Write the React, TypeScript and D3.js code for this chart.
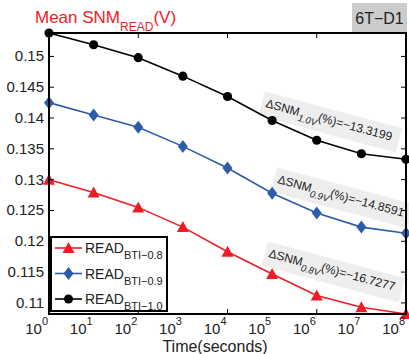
import React from 'react';
import * as d3 from 'd3';

// time points (seconds) and the mean read SNM (V) for each supply
const times = [1, 1e1, 1e2, 1e3, 1e4, 1e5, 1e6, 1e7, 1e8];
const snm08 = [0.13, 0.1279, 0.1255, 0.1223, 0.1183, 0.1147, 0.1112, 0.1093, 0.1082];
const snm09 = [0.1425, 0.1405, 0.1385, 0.1354, 0.1319, 0.1278, 0.1246, 0.1223, 0.1213];
const snm10 = [0.1538, 0.1519, 0.1498, 0.1468, 0.1435, 0.1396, 0.1364, 0.1342, 0.1333];

const yTicks = [0.11, 0.115, 0.12, 0.125, 0.13, 0.135, 0.14, 0.145, 0.15];
const xTickLabels = [0, 1, 2, 3, 4, 5, 6, 7, 8];
const xTickMarks = [1e2, 1e4, 1e6];

const legendNames = ['BTI−0.8', 'BTI−0.9', 'BTI−1.0'];
const deltaVolts = ['1.0V', '0.9V', '0.8V'];
const deltaValues = ['−13.3199', '−14.8591', '−16.7277'];

const FONT = '"Liberation Sans", Arial, Helvetica, sans-serif';
const RED = '#ee1d25';
const BLUE = '#2d5ca9';

const width = 409;
const height = 354;
const margin = { left: 49, right: 3, top: 33, bottom: 40 };

const App = () => {
  const x = d3.scaleLog().domain([1, 1e8]).range([margin.left, width - margin.right]);
  const y = d3.scaleLinear().domain([0.1082, 0.1538]).range([height - margin.bottom, margin.top]);
  const [x0, x1] = x.range();
  const [y0, y1] = y.range();

  const series = [
    { name: legendNames[0], values: snm08, color: RED, shape: 'triangle' },
    { name: legendNames[1], values: snm09, color: BLUE, shape: 'diamond' },
    { name: legendNames[2], values: snm10, color: '#000', shape: 'circle' },
  ];

  const line = d3
    .line<number>()
    .x((_, i) => x(times[i]))
    .y((d) => y(d));

  // marker paths, centred on 0,0
  const markerPath = (shape: string) => {
    if (shape === 'triangle') return 'M0,-6L6,5L-6,5Z';
    if (shape === 'diamond') return 'M0,-6.5L5,0L0,6.5L-5,0Z';
    return d3.symbol().type(d3.symbolCircle).size(66)() as string;
  };

  // annotation placement: baseline start of the text
  const notes = [
    { volt: deltaVolts[0], val: deltaValues[0], px: 265, py: 107 },
    { volt: deltaVolts[1], val: deltaValues[1], px: 277, py: 183 },
    { volt: deltaVolts[2], val: deltaValues[2], px: 268, py: 257 },
  ];

  return (
    <svg width={width} height={height} style={{ position: 'absolute', left: 0, top: 0, background: '#fff' }} fontFamily={FONT}>
      {/* annotations with grey boxes */}
      {notes.map((n, i) => (
        <g key={'n' + i} transform={`translate(${n.px},${n.py}) rotate(15)`}>
          <rect x={-4} y={-15} width={142} height={25} fill="#ececec" opacity={0.9} />
          <text fontSize={12} fill="#222">
            ΔSNM
            <tspan fontSize={9.5} dy={5} fontStyle="italic">{n.volt}</tspan>
            <tspan dy={-5}>(%)={n.val}</tspan>
          </text>
        </g>
      ))}

      {/* series lines and markers */}
      {series.map((s) => (
        <g key={s.name}>
          <path d={line(s.values) as string} fill="none" stroke={s.color} strokeWidth={1.6} />
          {s.values.map((v, i) => (
            <path key={i} d={markerPath(s.shape)} transform={`translate(${x(times[i])},${y(v)})`} fill={s.color} />
          ))}
        </g>
      ))}

      {/* axes box */}
      <rect x={x0} y={y1} width={x1 - x0} height={y0 - y1} fill="none" stroke="#000" strokeWidth={2} />
      {yTicks.map((t) => (
        <g key={t}>
          <line x1={x0} x2={x0 + 5} y1={y(t)} y2={y(t)} stroke="#000" strokeWidth={1} />
          <line x1={x1} x2={x1 - 5} y1={y(t)} y2={y(t)} stroke="#000" strokeWidth={1} />
          <text x={x0 - 5} y={y(t) + 5} fontSize={15} textAnchor="end" fill="#222">
            {d3.format('')(t)}
          </text>
        </g>
      ))}
      {xTickMarks.map((t) => (
        <g key={t}>
          <line x1={x(t)} x2={x(t)} y1={y0} y2={y0 - 5} stroke="#000" strokeWidth={1} />
          <line x1={x(t)} x2={x(t)} y1={y1} y2={y1 + 5} stroke="#000" strokeWidth={1} />
        </g>
      ))}
      {xTickLabels.map((p) => (
        <text key={p} x={x(Math.pow(10, p)) - 1} y={334} fontSize={15} textAnchor="end" fill="#222">
          10<tspan fontSize={11} dy={-9}>{p}</tspan>
        </text>
      ))}
      <text x={215} y={351.5} fontSize={16} textAnchor="middle" fill="#222">
        Time(seconds)
      </text>

      {/* title and tag */}
      <text x={35} y={23} fontSize={17} fill={RED}>
        Mean SNM<tspan fontSize={12} dy={8}>READ</tspan>
        <tspan dy={-8}>(V)</tspan>
      </text>
      <rect x={352} y={3} width={55} height={29} fill="#cccccc" />
      <text x={379.5} y={24} fontSize={16} textAnchor="middle" fill="#222">
        6T−D1
      </text>

      {/* legend */}
      <rect x={51} y={237} width={116} height={74} fill="#fff" stroke="#000" strokeWidth={2} />
      {series.map((s, i) => {
        const ly = 248 + i * 25.5;
        return (
          <g key={'l' + s.name}>
            <line x1={55} x2={82} y1={ly} y2={ly} stroke={s.color} strokeWidth={1.6} />
            <path d={markerPath(s.shape)} transform={`translate(68.5,${ly})`} fill={s.color} />
            <text x={85} y={ly + 5} fontSize={14} fill="#222">
              READ<tspan fontSize={11} dy={6}>{s.name}</tspan>
            </text>
          </g>
        );
      })}
    </svg>
  );
};

export default App;
